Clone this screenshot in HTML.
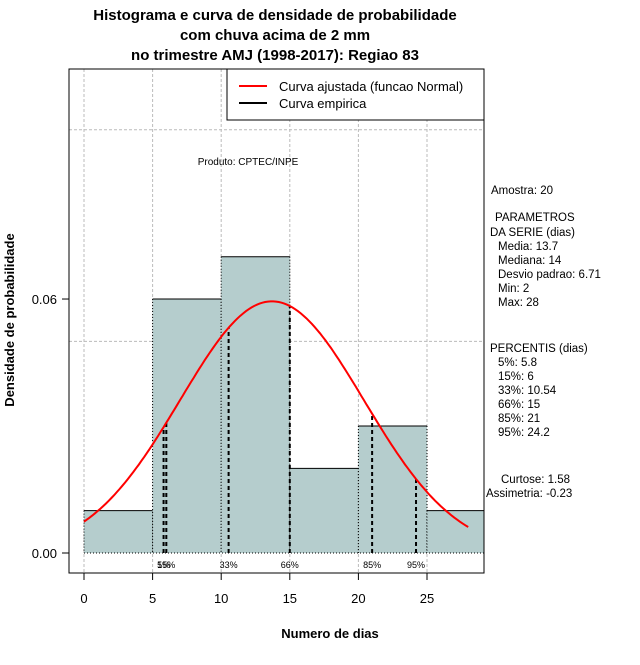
<!DOCTYPE html>
<html><head><meta charset="utf-8"><style>
body{margin:0;background:#fff}
text{font-family:"Liberation Sans",sans-serif}
</style></head><body>
<svg id="c" width="640" height="660" xmlns="http://www.w3.org/2000/svg">
<text x="275" y="20" text-anchor="middle" font-size="15" font-weight="bold">Histograma e curva de densidade de probabilidade</text>
<text x="275" y="40" text-anchor="middle" font-size="15" font-weight="bold">com chuva acima de 2 mm</text>
<text x="275" y="60" text-anchor="middle" font-size="15" font-weight="bold">no trimestre AMJ (1998-2017): Regiao 83</text>
<g id="grid"></g><g id="bars"></g><g id="pct"></g><g id="curve"></g><g id="axes"></g>
<rect x="69" y="69" width="415" height="504" fill="none" stroke="#000"/>
<g>
<rect x="227" y="69" width="257" height="51" fill="#fff" stroke="#000"/>
<line x1="239" y1="86" x2="267" y2="86" stroke="red" stroke-width="2"/>
<text x="279" y="91" font-size="13">Curva ajustada (funcao Normal)</text>
<line x1="239" y1="103" x2="267" y2="103" stroke="#000" stroke-width="2"/>
<text x="279" y="108" font-size="13">Curva empirica</text>
</g>
<text x="248" y="165" text-anchor="middle" font-size="10">Produto: CPTEC/INPE</text>
<text x="330" y="638" text-anchor="middle" font-size="13" font-weight="bold">Numero de dias</text>
<text transform="translate(14,320) rotate(-90)" text-anchor="middle" font-size="13" font-weight="bold">Densidade de probabilidade</text>
<g font-size="11.5">
<text x="491" y="194">Amostra: 20</text>
<text x="495" y="221">PARAMETROS</text>
<text x="490" y="236">DA SERIE (dias)</text>
<text x="498" y="250">Media: 13.7</text>
<text x="498" y="264">Mediana: 14</text>
<text x="498" y="278">Desvio padrao: 6.71</text>
<text x="498" y="292">Min: 2</text>
<text x="498" y="306">Max: 28</text>
<text x="490" y="352">PERCENTIS (dias)</text>
<text x="498" y="366">5%: 5.8</text>
<text x="498" y="380">15%: 6</text>
<text x="498" y="394">33%: 10.54</text>
<text x="498" y="408">66%: 15</text>
<text x="498" y="422">85%: 21</text>
<text x="498" y="436">95%: 24.2</text>
<text x="501" y="483">Curtose: 1.58</text>
<text x="486" y="497">Assimetria: -0.23</text>
</g>
</svg>
<script>
const binStarts=[0,5,10,15,20,25];
const binDensity=[0.01,0.06,0.07,0.02,0.03,0.01];
const pctLabels=["5%","15%","33%","66%","85%","95%"];
const pctValues=[5.8,6,10.54,15,21,24.2];
const mean=13.7, sd=6.71, xMin=0, xMax=28;
const xTicks=[0,5,10,15,20,25];
const yTicks=[0,0.06];
const yTickLabels=["0.00","0.06"];
const gridY=[0.05,0.10];
const X=v=>84+v*13.72, Y=v=>553-v*4233;
const NS="http://www.w3.org/2000/svg";
function mk(p,t,a){const e=document.createElementNS(NS,t);for(const k in a)e.setAttribute(k,a[k]);document.getElementById(p).appendChild(e);return e;}
const dens=x=>Math.exp(-0.5*((x-mean)/sd)**2)/(sd*Math.sqrt(2*Math.PI));
xTicks.forEach(t=>{const e=mk('grid','line',{x1:X(t),x2:X(t),y1:69,y2:573,stroke:'#bbb','stroke-dasharray':'3,2'});

});
gridY.forEach(t=>{const e=mk('grid','line',{x1:69,x2:484,y1:Y(t),y2:Y(t),stroke:'#bbb','stroke-dasharray':'3,2'});

});
binStarts.forEach((s,i)=>{const x0=X(s),x1=Math.min(X(s+5),484),y=Y(binDensity[i]);
const r=mk('bars','rect',{x:x0,y:y,width:x1-x0,height:553-y,fill:'#b5cdcd'});


mk('bars','line',{x1:x0,x2:x1,y1:y,y2:y,stroke:'#000'});
mk('bars','line',{x1:x0,x2:x0,y1:y,y2:553,stroke:'#000','stroke-dasharray':'1,2'});
if(X(s+5)<=484)mk('bars','line',{x1:x1,x2:x1,y1:y,y2:553,stroke:'#000','stroke-dasharray':'1,2'});});
mk('bars','line',{x1:84,x2:484,y1:553,y2:553,stroke:'#000','stroke-dasharray':'1,2'});
pctValues.forEach((v,i)=>{const l=mk('pct','line',{x1:X(v),x2:X(v),y1:553,y2:Y(dens(v)),stroke:'#000','stroke-width':2,'stroke-dasharray':'4,3'});


const t=mk('pct','text',{x:X(v),y:568,'text-anchor':'middle','font-size':9});t.textContent=pctLabels[i];

});
let d='';for(let x=xMin;x<=xMax+1e-9;x+=0.2)d+=(d?'L':'M')+X(x).toFixed(1)+','+Y(dens(x)).toFixed(1);
const c=mk('curve','path',{d:d,fill:'none',stroke:'red','stroke-width':2});


xTicks.forEach(t=>{mk('axes','line',{x1:X(t),x2:X(t),y1:573,y2:580,stroke:'#000'});
const e=mk('axes','text',{x:X(t),y:603,'text-anchor':'middle','font-size':13});e.textContent=t;

});
yTicks.forEach((t,i)=>{mk('axes','line',{x1:62,x2:69,y1:Y(t),y2:Y(t),stroke:'#000'});
const e=mk('axes','text',{x:57,y:Y(t)+5,'text-anchor':'end','font-size':13});e.textContent=yTickLabels[i];

});
</script>
</body></html>
